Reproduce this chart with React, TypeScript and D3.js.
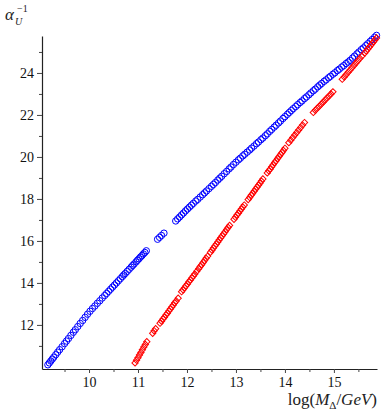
import React, { useEffect, useRef } from "react";
import * as d3 from "d3";

// blue circles
const blueX = [
  9.16, 9.19, 9.22, 9.25, 9.28, 9.32, 9.36, 9.4, 9.45, 9.5, 9.54, 9.58, 9.63, 9.68, 9.72, 9.77, 9.82, 9.87, 9.92, 9.97,
  10.02, 10.07, 10.12, 10.17, 10.22, 10.27, 10.32, 10.36, 10.4, 10.44, 10.48, 10.52, 10.56, 10.6,
  10.64, 10.68, 10.71, 10.74, 10.78, 10.82, 10.86, 10.89, 10.92, 10.96, 10.99, 11.02, 11.05, 11.08, 11.11, 11.14, 11.17,
  11.4, 11.44, 11.48, 11.53,
  11.77, 11.81, 11.85, 11.89, 11.93, 11.97, 12.01, 12.05, 12.09, 12.13, 12.18, 12.22, 12.27, 12.32, 12.36, 12.4, 12.45,
  12.5, 12.54, 12.58, 12.63, 12.67, 12.71, 12.76, 12.81, 12.86, 12.9, 12.95, 13.0, 13.05, 13.09, 13.14, 13.18, 13.23,
  13.28, 13.32, 13.37, 13.42, 13.46, 13.51, 13.55, 13.6, 13.64, 13.69, 13.73, 13.78, 13.82, 13.87, 13.91, 13.96, 14.0,
  14.05, 14.09, 14.13, 14.17, 14.22, 14.26, 14.31, 14.35, 14.4, 14.44, 14.49, 14.53, 14.58, 14.62, 14.67, 14.71, 14.75,
  14.8, 14.84, 14.89, 14.93, 14.98, 15.02, 15.07, 15.11, 15.16, 15.2, 15.25, 15.29, 15.33, 15.38, 15.42, 15.47, 15.51,
  15.56, 15.6, 15.65, 15.69, 15.74, 15.78, 15.83, 15.87,
];
const blueY = [
  10.1, 10.19, 10.28, 10.37, 10.46, 10.58, 10.7, 10.82, 10.96, 11.11, 11.23, 11.35, 11.5, 11.65, 11.77, 11.92, 12.07, 12.21, 12.36, 12.51,
  12.65, 12.78, 12.9, 13.03, 13.15, 13.28, 13.4, 13.5, 13.6, 13.7, 13.8, 13.9, 14.0, 14.1,
  14.2, 14.3, 14.38, 14.45, 14.55, 14.65, 14.75, 14.83, 14.9, 15.0, 15.08, 15.15, 15.23, 15.3, 15.38, 15.45, 15.53,
  16.08, 16.17, 16.26, 16.37,
  16.95, 17.05, 17.14, 17.24, 17.33, 17.43, 17.52, 17.61, 17.7, 17.79, 17.9, 17.98, 18.09, 18.2, 18.29, 18.38, 18.49,
  18.6, 18.69, 18.78, 18.9, 18.99, 19.08, 19.2, 19.31, 19.43, 19.52, 19.64, 19.75, 19.86, 19.94, 20.05, 20.13, 20.23,
  20.33, 20.42, 20.52, 20.63, 20.71, 20.82, 20.9, 21.01, 21.1, 21.22, 21.31, 21.42, 21.51, 21.62, 21.71, 21.83, 21.92,
  22.03, 22.12, 22.21, 22.3, 22.4, 22.49, 22.59, 22.67, 22.78, 22.86, 22.96, 23.05, 23.15, 23.23, 23.34, 23.42, 23.5,
  23.6, 23.67, 23.77, 23.84, 23.94, 24.01, 24.11, 24.18, 24.28, 24.35, 24.45, 24.52, 24.6, 24.71, 24.8, 24.91, 25.0,
  25.11, 25.19, 25.3, 25.39, 25.5, 25.59, 25.7, 25.79,
];

// red diamonds
const redX = [
  10.94, 10.97, 11.0, 11.03, 11.06, 11.09, 11.12, 11.15, 11.18,
  11.3, 11.33, 11.36,
  11.45, 11.48, 11.51, 11.54, 11.57, 11.6, 11.63, 11.66, 11.69, 11.72, 11.75, 11.78, 11.82,
  11.89, 11.92, 11.95, 11.98, 12.01, 12.04, 12.07, 12.1, 12.13, 12.16, 12.2,
  12.24, 12.27, 12.3, 12.33, 12.36, 12.39, 12.42,
  12.48, 12.51, 12.54, 12.57, 12.6, 12.63, 12.66, 12.69, 12.72, 12.75, 12.78, 12.81, 12.84, 12.87,
  12.96, 12.99, 13.02, 13.05, 13.08, 13.11, 13.14, 13.17,
  13.25, 13.28, 13.31, 13.34, 13.37, 13.4, 13.43, 13.46, 13.49, 13.52, 13.55,
  13.64, 13.67, 13.7, 13.73, 13.76, 13.79, 13.82, 13.85, 13.88, 13.91, 13.94, 13.97, 14.0,
  14.08, 14.12, 14.16, 14.2, 14.24, 14.28, 14.32, 14.36, 14.4,
  14.58, 14.62, 14.66, 14.7, 14.74, 14.78, 14.82, 14.86, 14.9, 14.94, 14.98,
  15.17, 15.21, 15.25, 15.29, 15.33, 15.37, 15.41, 15.45, 15.49, 15.53, 15.57,
  15.63, 15.66, 15.69, 15.72, 15.75, 15.78, 15.81, 15.84, 15.87,
];
const redY = [
  10.19, 10.32, 10.44, 10.57, 10.69, 10.82, 10.95, 11.07, 11.2,
  11.6, 11.72, 11.82,
  12.08, 12.18, 12.28, 12.37, 12.47, 12.56, 12.66, 12.76, 12.85, 12.95, 13.05, 13.14, 13.27,
  13.58, 13.67, 13.77, 13.86, 13.95, 14.05, 14.14, 14.24, 14.33, 14.42, 14.55,
  14.68, 14.78, 14.87, 14.97, 15.07, 15.17, 15.27,
  15.46, 15.56, 15.66, 15.76, 15.85, 15.95, 16.05, 16.15, 16.25, 16.34, 16.44, 16.54, 16.64, 16.74,
  17.03, 17.13, 17.23, 17.32, 17.42, 17.52, 17.61, 17.71,
  17.97, 18.07, 18.17, 18.26, 18.36, 18.46, 18.56, 18.65, 18.75, 18.85, 18.95,
  19.24, 19.34, 19.43, 19.53, 19.63, 19.73, 19.82, 19.92, 20.02, 20.12, 20.21, 20.31, 20.41,
  20.68, 20.8, 20.92, 21.04, 21.16, 21.28, 21.4, 21.52, 21.64,
  22.12, 22.22, 22.32, 22.41, 22.51, 22.61, 22.71, 22.81, 22.9, 23.0, 23.1,
  23.7, 23.81, 23.92, 24.03, 24.14, 24.25, 24.36, 24.47, 24.58, 24.69, 24.8,
  24.95, 25.04, 25.13, 25.22, 25.31, 25.4, 25.49, 25.58, 25.67,
];

const xMajor = [10, 11, 12, 13, 14, 15];
const xMinor = [9.5, 10.5, 11.5, 12.5, 13.5, 14.5, 15.5];
const yMajor = [12, 14, 16, 18, 20, 22, 24];
const yMinor = [11, 13, 15, 17, 19, 21, 23, 25];

const serif = "Liberation Serif, Times New Roman, DejaVu Serif, serif";

export default function App() {
  const svgRef = useRef<SVGSVGElement>(null);

  useEffect(() => {
    document.body.style.margin = "0";
    if (!svgRef.current) return;

    const width = 382;
    const height = 412;

    const svg = d3.select(svgRef.current);
    svg.selectAll("*").remove();
    svg
      .attr("width", width)
      .attr("height", height)
      .attr("viewBox", `0 0 ${width} ${height}`)
      .style("font-family", serif);

    const x = d3.scaleLinear().domain([9.04, 15.88]).range([42, 377]);
    const y = d3.scaleLinear().domain([9.9, 25.76]).range([369, 36]);

    // axes
    const gx = svg.append("g").attr("transform", `translate(0,${y.range()[0]})`);
    gx.call(d3.axisBottom(x).tickValues(xMajor).tickSize(4).tickSizeOuter(0).tickPadding(4).tickFormat(d3.format("d")));
    gx.append("g").call(d3.axisBottom(x).tickValues(xMinor).tickSize(3).tickSizeOuter(0).tickFormat(() => ""))
      .select(".domain").remove();

    const gy = svg.append("g").attr("transform", `translate(${x.range()[0]},0)`);
    gy.call(d3.axisLeft(y).tickValues(yMajor).tickSize(5).tickSizeOuter(0).tickPadding(3).tickFormat(d3.format("d")));
    gy.append("g").call(d3.axisLeft(y).tickValues(yMinor).tickSize(3).tickSizeOuter(0).tickFormat(() => ""))
      .select(".domain").remove();

    svg.selectAll("g").attr("font-family", serif);
    svg.selectAll(".domain").attr("stroke", "#222").attr("stroke-width", 1.2);
    svg.selectAll(".tick line").attr("stroke", "#444");
    svg.selectAll(".tick text").attr("font-family", serif).attr("font-size", 14).attr("fill", "#111");

    // blue circles
    svg
      .append("g")
      .selectAll("circle")
      .data(blueX.map((v, i) => [v, blueY[i]]))
      .join("circle")
      .attr("cx", (d) => x(d[0]))
      .attr("cy", (d) => y(d[1]))
      .attr("r", 3.2)
      .attr("fill", "none")
      .attr("stroke", "#0000ff")
      .attr("stroke-width", 1);

    // red diamonds
    const diamond = d3.symbol(d3.symbolSquare, 20);
    svg
      .append("g")
      .selectAll("path")
      .data(redX.map((v, i) => [v, redY[i]]))
      .join("path")
      .attr("d", diamond)
      .attr("transform", (d) => `translate(${x(d[0])},${y(d[1])}) rotate(45)`)
      .attr("fill", "none")
      .attr("stroke", "#ff0000")
      .attr("stroke-width", 1);

    // x title
    const xt = svg
      .append("text")
      .attr("x", 377)
      .attr("y", 405)
      .attr("text-anchor", "end")
      .attr("font-family", serif)
      .attr("font-size", 17)
      .attr("fill", "#222");
    xt.append("tspan").text("log(");
    xt.append("tspan").attr("font-style", "italic").text("M");
    xt.append("tspan").attr("font-size", 11).attr("dy", 4).text("Δ");
    xt.append("tspan").attr("dy", -4).text("/");
    xt.append("tspan").attr("font-style", "italic").text("GeV");
    xt.append("tspan").text(")");

    // y title
    svg
      .append("text")
      .attr("x", 5)
      .attr("y", 20)
      .attr("font-family", serif)
      .attr("font-size", 17)
      .attr("font-style", "italic")
      .attr("fill", "#222")
      .text("α");
    svg
      .append("text")
      .attr("x", 15)
      .attr("y", 25)
      .attr("font-family", serif)
      .attr("font-size", 10)
      .attr("font-style", "italic")
      .attr("fill", "#222")
      .text("U");
    svg
      .append("text")
      .attr("x", 17)
      .attr("y", 12)
      .attr("font-family", serif)
      .attr("font-size", 10)
      .attr("fill", "#222")
      .text("−1");
  }, []);

  return <svg ref={svgRef} style={{ display: "block" }} />;
}
